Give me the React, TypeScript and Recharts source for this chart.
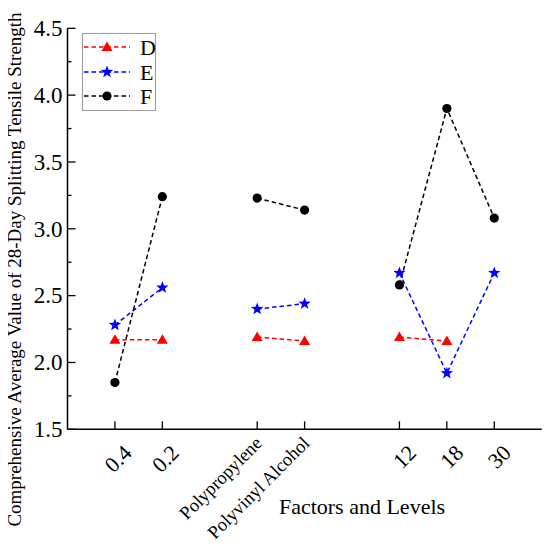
import React from 'react';
import { LineChart, Line, XAxis, YAxis, Legend } from 'recharts';

const levelLabels = ['0.4', '0.2', '', 'Polypropylene', 'Polyvinyl Alcohol', '', '12', '18', '30'];
const seriesD = [2.17, 2.17, null, 2.19, 2.16, null, 2.19, 2.16, null];
const seriesE = [2.28, 2.56, null, 2.40, 2.44, null, 2.67, 1.92, 2.67];
const seriesF = [1.85, 3.24, null, 3.23, 3.14, null, 2.58, 3.90, 3.08];
const yTicks = [1.5, 1.75, 2.0, 2.25, 2.5, 2.75, 3.0, 3.25, 3.5, 3.75, 4.0, 4.25, 4.5];

const data = levelLabels.map((label, i) => ({
  pos: i + 1,
  label,
  D: seriesD[i],
  E: seriesE[i],
  F: seriesF[i],
}));
const xTicks = data.filter((d) => d.label !== '').map((d) => d.pos);

const FONT = "'Liberation Serif', 'DejaVu Serif', serif";
const COLORS = { D: '#ff0000', E: '#0000ff', F: '#000000' };
const txt = (size: number): React.CSSProperties => ({ fontFamily: FONT, fontSize: size });

function starPath(cx: number, cy: number, R: number, r: number) {
  let d = '';
  for (let i = 0; i < 10; i++) {
    const rad = i % 2 === 0 ? R : r;
    const a = -Math.PI / 2 + (i * Math.PI) / 5;
    d += (i === 0 ? 'M' : 'L') + (cx + rad * Math.cos(a)).toFixed(2) + ',' + (cy + rad * Math.sin(a)).toFixed(2);
  }
  return d + 'Z';
}

function Marker({ kind, cx, cy }: { kind: string; cx: number; cy: number }) {
  if (kind === 'D') {
    return <polygon points={`${cx},${cy - 5.5} ${cx + 5.5},${cy + 4} ${cx - 5.5},${cy + 4}`} fill={COLORS.D} />;
  }
  if (kind === 'E') {
    return <path d={starPath(cx, cy, 6.5, 2.7)} fill={COLORS.E} />;
  }
  return <circle cx={cx} cy={cy} r={4.6} fill={COLORS.F} />;
}

const makeDot = (kind: string) => (props: any) => {
  const { cx, cy, index, value } = props;
  if (value == null || cx == null || cy == null) return <g key={`${kind}-${index}`} />;
  return (
    <g key={`${kind}-${index}`}>
      <Marker kind={kind} cx={cx} cy={cy} />
    </g>
  );
};

const XTick = (props: any) => {
  const { x, y, payload } = props;
  const label = data.find((d) => d.pos === payload.value)?.label ?? '';
  const numeric = !isNaN(Number(label));
  const dx = numeric ? 18 : 6;
  const dy = numeric ? 25 : 15;
  const size = numeric ? 22 : 18.5;
  return (
    <g>
      <line x1={x} y1={y} x2={x} y2={y - 8} stroke="#000" strokeWidth={1.3} />
      <text
        x={x + dx}
        y={y + dy}
        textAnchor="end"
        style={txt(size)}
        fill="#000"
        transform={`rotate(-45, ${x + dx}, ${y + dy})`}
      >
        {label}
      </text>
    </g>
  );
};

const YTick = (props: any) => {
  const { x, y, payload } = props;
  const v = payload.value as number;
  const major = Math.abs(v * 2 - Math.round(v * 2)) < 1e-6;
  return (
    <g>
      <line x1={x} y1={y} x2={x + (major ? 8 : 4)} y2={y} stroke="#000" strokeWidth={1.3} />
      {major && (
        <text x={x - 5} y={y} dy="0.34em" textAnchor="end" style={txt(23)} fill="#000">
          {v.toFixed(1)}
        </text>
      )}
    </g>
  );
};

const LegendBox = () => {
  const rows = [
    { k: 'D', y: 14 },
    { k: 'E', y: 39 },
    { k: 'F', y: 63 },
  ];
  return (
    <svg width={74} height={78} style={{ display: 'block' }}>
      <rect x={0.5} y={0.5} width={73} height={77} fill="#fff" stroke="#999" strokeWidth={1} />
      {rows.map((r) => (
        <g key={r.k}>
          <line x1={2} x2={48} y1={r.y} y2={r.y} stroke={(COLORS as any)[r.k]} strokeWidth={1.5} strokeDasharray="4.5 3" />
          <Marker kind={r.k} cx={25} cy={r.y} />
          <text x={58} y={r.y} dy="0.35em" style={txt(22)} fill="#000">
            {r.k}
          </text>
        </g>
      ))}
    </svg>
  );
};

export default function App() {
  return (
    <div style={{ width: 550, height: 549, position: 'relative', margin: '-8px 0 0 -8px', fontFamily: FONT }}>
      <LineChart width={550} height={549} data={data} margin={{ top: 28.3, right: 8.3, bottom: 0, left: 0 }}>
        <XAxis
          dataKey="pos"
          type="number"
          domain={[0, 10]}
          ticks={xTicks}
          interval={0}
          height={119.7}
          tickSize={0}
          tickMargin={0}
          tickLine={false}
          axisLine={{ stroke: '#000', strokeWidth: 1.5 }}
          tick={<XTick />}
          label={{
            content: () => (
              <text x={362} y={514} textAnchor="middle" style={txt(22)} fill="#000">
                Factors and Levels
              </text>
            ),
          }}
        />
        <YAxis
          type="number"
          domain={[1.5, 4.5]}
          ticks={yTicks}
          interval={0}
          width={67.5}
          tickSize={0}
          tickMargin={0}
          tickLine={false}
          axisLine={{ stroke: '#000', strokeWidth: 1.5 }}
          tick={<YTick />}
          label={{
            content: () => (
              <text
                x={20.5}
                y={269.5}
                textAnchor="middle"
                style={txt(19)}
                fill="#000"
                transform="rotate(-90, 20.5, 269.5)"
              >
                Comprehensive Average Value of 28-Day Splitting Tensile Strength
              </text>
            ),
          }}
        />
        <Legend
          layout="vertical"
          align="center"
          verticalAlign="middle"
          content={() => <LegendBox />}
          wrapperStyle={{ left: 81.7, top: 33.3, width: 74, height: 78, right: 'auto', bottom: 'auto', transform: 'none' }}
        />
        {(['D', 'E', 'F'] as const).map((k) => (
          <Line
            key={k}
            dataKey={k}
            type="linear"
            stroke={COLORS[k]}
            strokeWidth={1.5}
            strokeDasharray="4.5 3"
            connectNulls={false}
            dot={makeDot(k)}
            activeDot={false}
            isAnimationActive={false}
            legendType="none"
          />
        ))}
      </LineChart>
    </div>
  );
}
